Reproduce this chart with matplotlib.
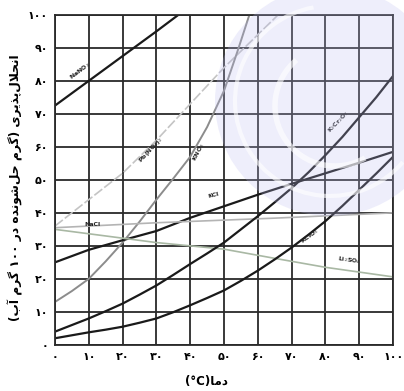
import numpy as np
import matplotlib
matplotlib.use('Agg')
import matplotlib.pyplot as plt
from matplotlib.patches import Circle, Arc

# --- данные (температура °C, растворимость г / 100 г воды) --- #
nano3_t = [0, 10, 20, 30, 36.5]
nano3_s = [72.5, 80, 87.5, 95, 100]

pbno3_t = [0, 10, 20, 30, 40, 50, 60, 66]
pbno3_s = [36, 44, 52, 62, 73, 84, 94, 100]

kno3_t = [0, 5, 10, 15, 20, 25, 30, 35, 40, 45, 50, 54, 57.5]
kno3_s = [13, 16.3, 20, 25.3, 31, 37.3, 44, 50.4, 57, 66, 77, 89, 100]

kcl_t = [0, 10, 20, 30, 40, 50, 60, 70, 80, 90, 100]
kcl_s = [25, 28.8, 31.7, 34.5, 38.5, 42, 45.5, 48.8, 52, 55.2, 58.5]

nacl_t = [0, 30, 65, 100]
nacl_s = [35.5, 37, 38.4, 40]

li2so4_t = [0, 30, 50, 64, 80, 100]
li2so4_s = [35, 31, 29, 26.4, 23.5, 20.6]

k2cr2o7_t = [0, 5, 10, 15, 20, 25, 30, 35, 40, 45, 50, 55, 60, 65, 70, 75, 80, 85, 90, 95, 100]
k2cr2o7_s = [4, 6, 8, 10.2, 12.5, 15.2, 18, 21.2, 24.5, 27.7, 31, 35, 39, 43.2, 47.5,
             52.3, 57.5, 63, 69, 75, 81.5]

kclo3_t = [0, 5, 10, 15, 20, 25, 30, 35, 40, 45, 50, 55, 60, 65, 70, 75, 80, 85, 90, 95, 100]
kclo3_s = [2, 2.9, 3.8, 4.6, 5.5, 6.7, 8, 9.9, 12, 14.2, 16.5, 19.4, 22.5, 25.9, 29.5,
           33.4, 37.5, 42.1, 47, 51.9, 57]

x_ticks = [0, 10, 20, 30, 40, 50, 60, 70, 80, 90, 100]
x_tick_labels = ['۰', '۱۰', '۲۰', '۳۰', '۴۰', '۵۰', '۶۰', '۷۰', '۸۰', '۹۰', '۱۰۰']
y_ticks = [0, 10, 20, 30, 40, 50, 60, 70, 80, 90, 100]
y_tick_labels = ['۰', '۱۰', '۲۰', '۳۰', '۴۰', '۵۰', '۶۰', '۷۰', '۸۰', '۹۰', '۱۰۰']

# ------------------------------------------------------------- #
# matplotlib не соединяет арабские буквы, поэтому формы подставляем сами
FORMS = {
    'ا': ('\uFE8D', '\uFE8E', None, None),
    'آ': ('\uFE81', '\uFE82', None, None),
    'ب': ('\uFE8F', '\uFE90', '\uFE91', '\uFE92'),
    'پ': ('\uFB56', '\uFB57', '\uFB58', '\uFB59'),
    'ح': ('\uFEA1', '\uFEA2', '\uFEA3', '\uFEA4'),
    'د': ('\uFEA9', '\uFEAA', None, None),
    'ذ': ('\uFEAB', '\uFEAC', None, None),
    'ر': ('\uFEAD', '\uFEAE', None, None),
    'ش': ('\uFEB5', '\uFEB6', '\uFEB7', '\uFEB8'),
    'گ': ('\uFB92', '\uFB93', '\uFB94', '\uFB95'),
    'ل': ('\uFEDD', '\uFEDE', '\uFEDF', '\uFEE0'),
    'م': ('\uFEE1', '\uFEE2', '\uFEE3', '\uFEE4'),
    'ن': ('\uFEE5', '\uFEE6', '\uFEE7', '\uFEE8'),
    'ه': ('\uFEE9', '\uFEEA', '\uFEEB', '\uFEEC'),
    'و': ('\uFEED', '\uFEEE', None, None),
    'ی': ('\uFBFC', '\uFBFD', '\uFBFE', '\uFBFF'),
}
LAM_ALEF = {'ا': ('\uFEFB', '\uFEFC'), 'آ': ('\uFEF5', '\uFEF6')}


def sw(word):
    out = []
    i = 0
    while i < len(word):
        c = word[i]
        if c not in FORMS:
            if c != '\u200c':
                out.append(c)
            i += 1
            continue
        prev = word[i - 1] if i > 0 else ''
        nxt = word[i + 1] if i + 1 < len(word) else ''
        join_prev = prev in FORMS and FORMS[prev][2] is not None
        if c == 'ل' and nxt in LAM_ALEF:
            out.append(LAM_ALEF[nxt][1 if join_prev else 0])
            i += 2
            continue
        join_next = FORMS[c][2] is not None and nxt in FORMS
        if join_prev and join_next:
            out.append(FORMS[c][3])
        elif join_prev:
            out.append(FORMS[c][1])
        elif join_next:
            out.append(FORMS[c][2])
        else:
            out.append(FORMS[c][0])
        i += 1
    return ''.join(out[::-1])


# визуальный порядок слов (справа налево)
ylabel = ('(' + sw('آب') + ' ' + sw('گرم') + ' ۱۰۰ ' + sw('در') + ' '
          + sw('حل‌شونده') + ' ' + sw('گرم') + ') ' + sw('انحلال‌پذیری'))
xlabel = '(°C)' + sw('دما')

# ------------------------------------------------------------- #
fig = plt.figure(figsize=(4.04, 3.91), dpi=100)
ax = fig.add_axes([0.136, 0.118, 0.837, 0.844])

ax.plot(nano3_t, nano3_s, color='#1a1a1a', lw=1.6)
ax.plot(pbno3_t, pbno3_s, color='#c4c4c4', lw=1.2, ls=(0, (6, 1.5)))
ax.plot(kno3_t, kno3_s, color='#8c8c8c', lw=1.4)
ax.plot(kcl_t, kcl_s, color='#1a1a1a', lw=1.6)
ax.plot(nacl_t, nacl_s, color='#b4b4b4', lw=1.2)
ax.plot(li2so4_t, li2so4_s, color='#a9b8a4', lw=1.2)
ax.plot(k2cr2o7_t, k2cr2o7_s, color='#1a1a1a', lw=1.6)
ax.plot(kclo3_t, kclo3_s, color='#1a1a1a', lw=1.6)

lab = dict(fontsize=4.5, fontweight='bold', color='#222222', ha='center', va='center')
ax.text(7.5, 83, 'NaNO$_3$', rotation=37, **lab)
ax.text(28.5, 59, 'Pb(NO$_3$)$_2$', rotation=47, **lab)
ax.text(42.5, 58.5, 'KNO$_3$', rotation=62, **lab)
ax.text(47, 45.5, 'KCl', rotation=14, **lab)
ax.text(11, 36.5, 'NaCl', rotation=0, **lab)
ax.text(84, 67.5, 'K$_2$Cr$_2$O$_7$', rotation=46, **lab)
ax.text(75.5, 33, 'KClO$_3$', rotation=36, **lab)
ax.text(87, 25.5, 'Li$_2$SO$_4$', rotation=-8, **lab)

ax.set_xlim(0, 100)
ax.set_ylim(0, 100)
ax.set_xticks(x_ticks)
ax.set_xticklabels(x_tick_labels, fontsize=8, fontweight='bold')
ax.set_yticks(y_ticks)
ax.set_yticklabels(y_tick_labels, fontsize=8, fontweight='bold')
ax.tick_params(length=0, pad=5)
ax.grid(True, color='#2a2a2a', lw=1.3)
ax.set_axisbelow(True)
for s in ax.spines.values():
    s.set_color('#2a2a2a')
    s.set_linewidth(1.3)

fig.text(0.038, 0.52, ylabel, rotation=90, fontsize=8.8, fontweight='bold',
         ha='center', va='center')
fig.text(0.512, 0.025, xlabel, fontsize=8.5, fontweight='bold',
         ha='center', va='center')

# водяной знак (светло-сиреневый круг)
wm = Circle((3.3, 2.9), 1.15, transform=fig.dpi_scale_trans,
            facecolor='#bcbcf0', edgecolor='none', alpha=0.25, zorder=5)
fig.patches.append(wm)
ring = Arc((3.3, 2.9), 1.9, 1.9, theta1=100, theta2=320, transform=fig.dpi_scale_trans,
           color='white', lw=3, alpha=0.6, zorder=6)
fig.patches.append(ring)
ring2 = Arc((3.35, 2.85), 1.2, 1.2, theta1=130, theta2=300, transform=fig.dpi_scale_trans,
            color='white', lw=4, alpha=0.6, zorder=6)
fig.patches.append(ring2)

plt.savefig('out.png', dpi=100)
